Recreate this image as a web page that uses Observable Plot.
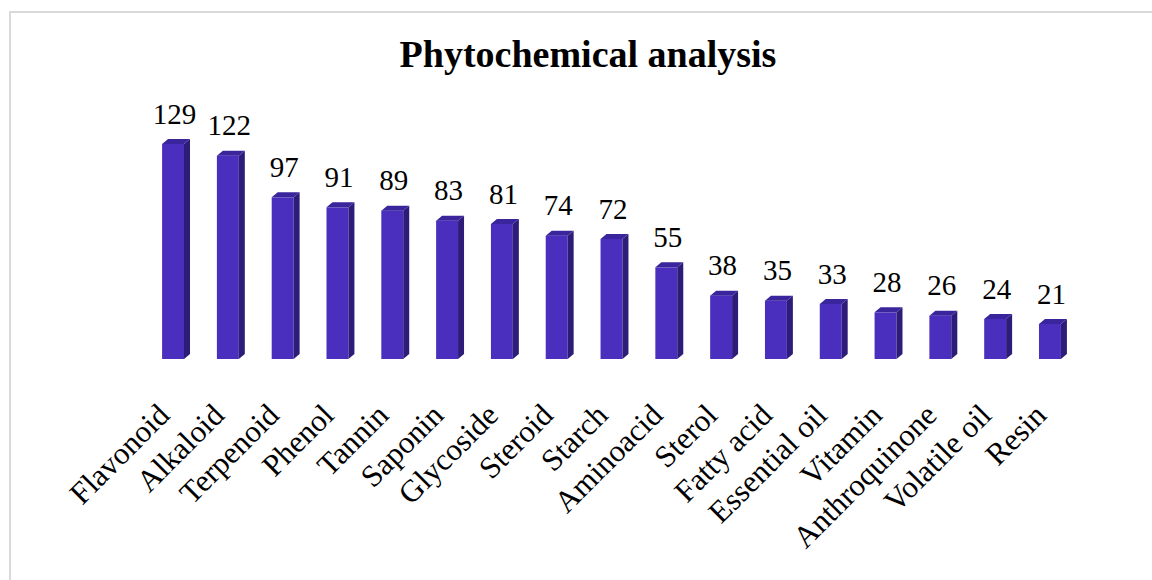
<!DOCTYPE html>
<html>
<head>
<meta charset="utf-8">
<script src="https://cdn.jsdelivr.net/npm/d3@7"></script>
<script src="https://cdn.jsdelivr.net/npm/@observablehq/plot@0.6"></script>
<style>
  html, body { margin: 0; padding: 0; background: #fff; overflow: hidden; width: 1152px; height: 580px; }
  #frame { position: absolute; left: 9px; top: 11px; width: 1200px; height: 620px; border: 2px solid #d9d9d9; box-sizing: border-box; }
  #title { position: absolute; left: 0; top: 35px; width: 1176px; text-align: center; font: bold 38px "Liberation Serif", "Times New Roman", serif; line-height: 38px; color: #000; }
  #chart { position: absolute; left: 0; top: 0; }
</style>
</head>
<body>
<div id="frame"></div>
<div id="title">Phytochemical analysis</div>
<div id="chart"></div>
<script>
const categories = ["Flavonoid", "Alkaloid", "Terpenoid", "Phenol", "Tannin", "Saponin", "Glycoside", "Steroid", "Starch", "Aminoacid", "Sterol", "Fatty acid", "Essential oil", "Vitamin", "Anthroquinone", "Volatile oil", "Resin"];
const counts = [129, 122, 97, 91, 89, 83, 81, 74, 72, 55, 38, 35, 33, 28, 26, 24, 21];

const data = categories.map((name, i) => ({name, value: counts[i]}));

const FRONT = "#4a2fbe";
const SIDE = "#2d1c78";
const TOP = "#3a259c";
const DX = 6, DY = 5;
const svgns = "http://www.w3.org/2000/svg";

function box3d(index, scales, values, dimensions, context, next) {
  const g = next(index, scales, values, dimensions, context);
  const rects = Array.from(g.querySelectorAll("rect"));
  for (const r of rects) {
    const x = +r.getAttribute("x"), y = +r.getAttribute("y");
    const w = +r.getAttribute("width"), h = +r.getAttribute("height");
    const side = document.createElementNS(svgns, "path");
    side.setAttribute("d", `M${x + w},${y}L${x + w + DX},${y - DY}L${x + w + DX},${y + h - DY}L${x + w},${y + h}Z`);
    side.setAttribute("fill", SIDE);
    const top = document.createElementNS(svgns, "path");
    top.setAttribute("d", `M${x},${y}L${x + DX},${y - DY}L${x + w + DX},${y - DY}L${x + w},${y}Z`);
    top.setAttribute("fill", TOP);
    g.appendChild(side);
    g.appendChild(top);
  }
  return g;
}

const font = "Liberation Serif, Times New Roman, serif";

const chart = Plot.plot({
  width: 1152,
  height: 580,
  marginTop: 144,
  marginBottom: 221,
  marginLeft: 0,
  marginRight: 0,
  style: {fontFamily: font, background: "transparent", overflow: "visible"},
  x: {domain: categories, range: [129.2, 1093.8], padding: 0.6, align: 0.5, round: false, axis: null},
  y: {domain: [0, 129], axis: null},
  marks: [
    Plot.barY(data, {x: "name", y: "value", fill: FRONT, render: box3d}),
    Plot.text(data, {x: "name", y: "value", text: d => String(d.value), lineAnchor: "bottom", dy: -21, dx: 1, fontSize: 29, fill: "#000"}),
    Plot.text(data, {x: "name", frameAnchor: "bottom", text: "name", rotate: -45, textAnchor: "end", lineAnchor: "top", dy: 42, dx: -18, fontSize: 31, fill: "#000"})
  ]
});
document.getElementById("chart").appendChild(chart);
</script>
</body>
</html>
